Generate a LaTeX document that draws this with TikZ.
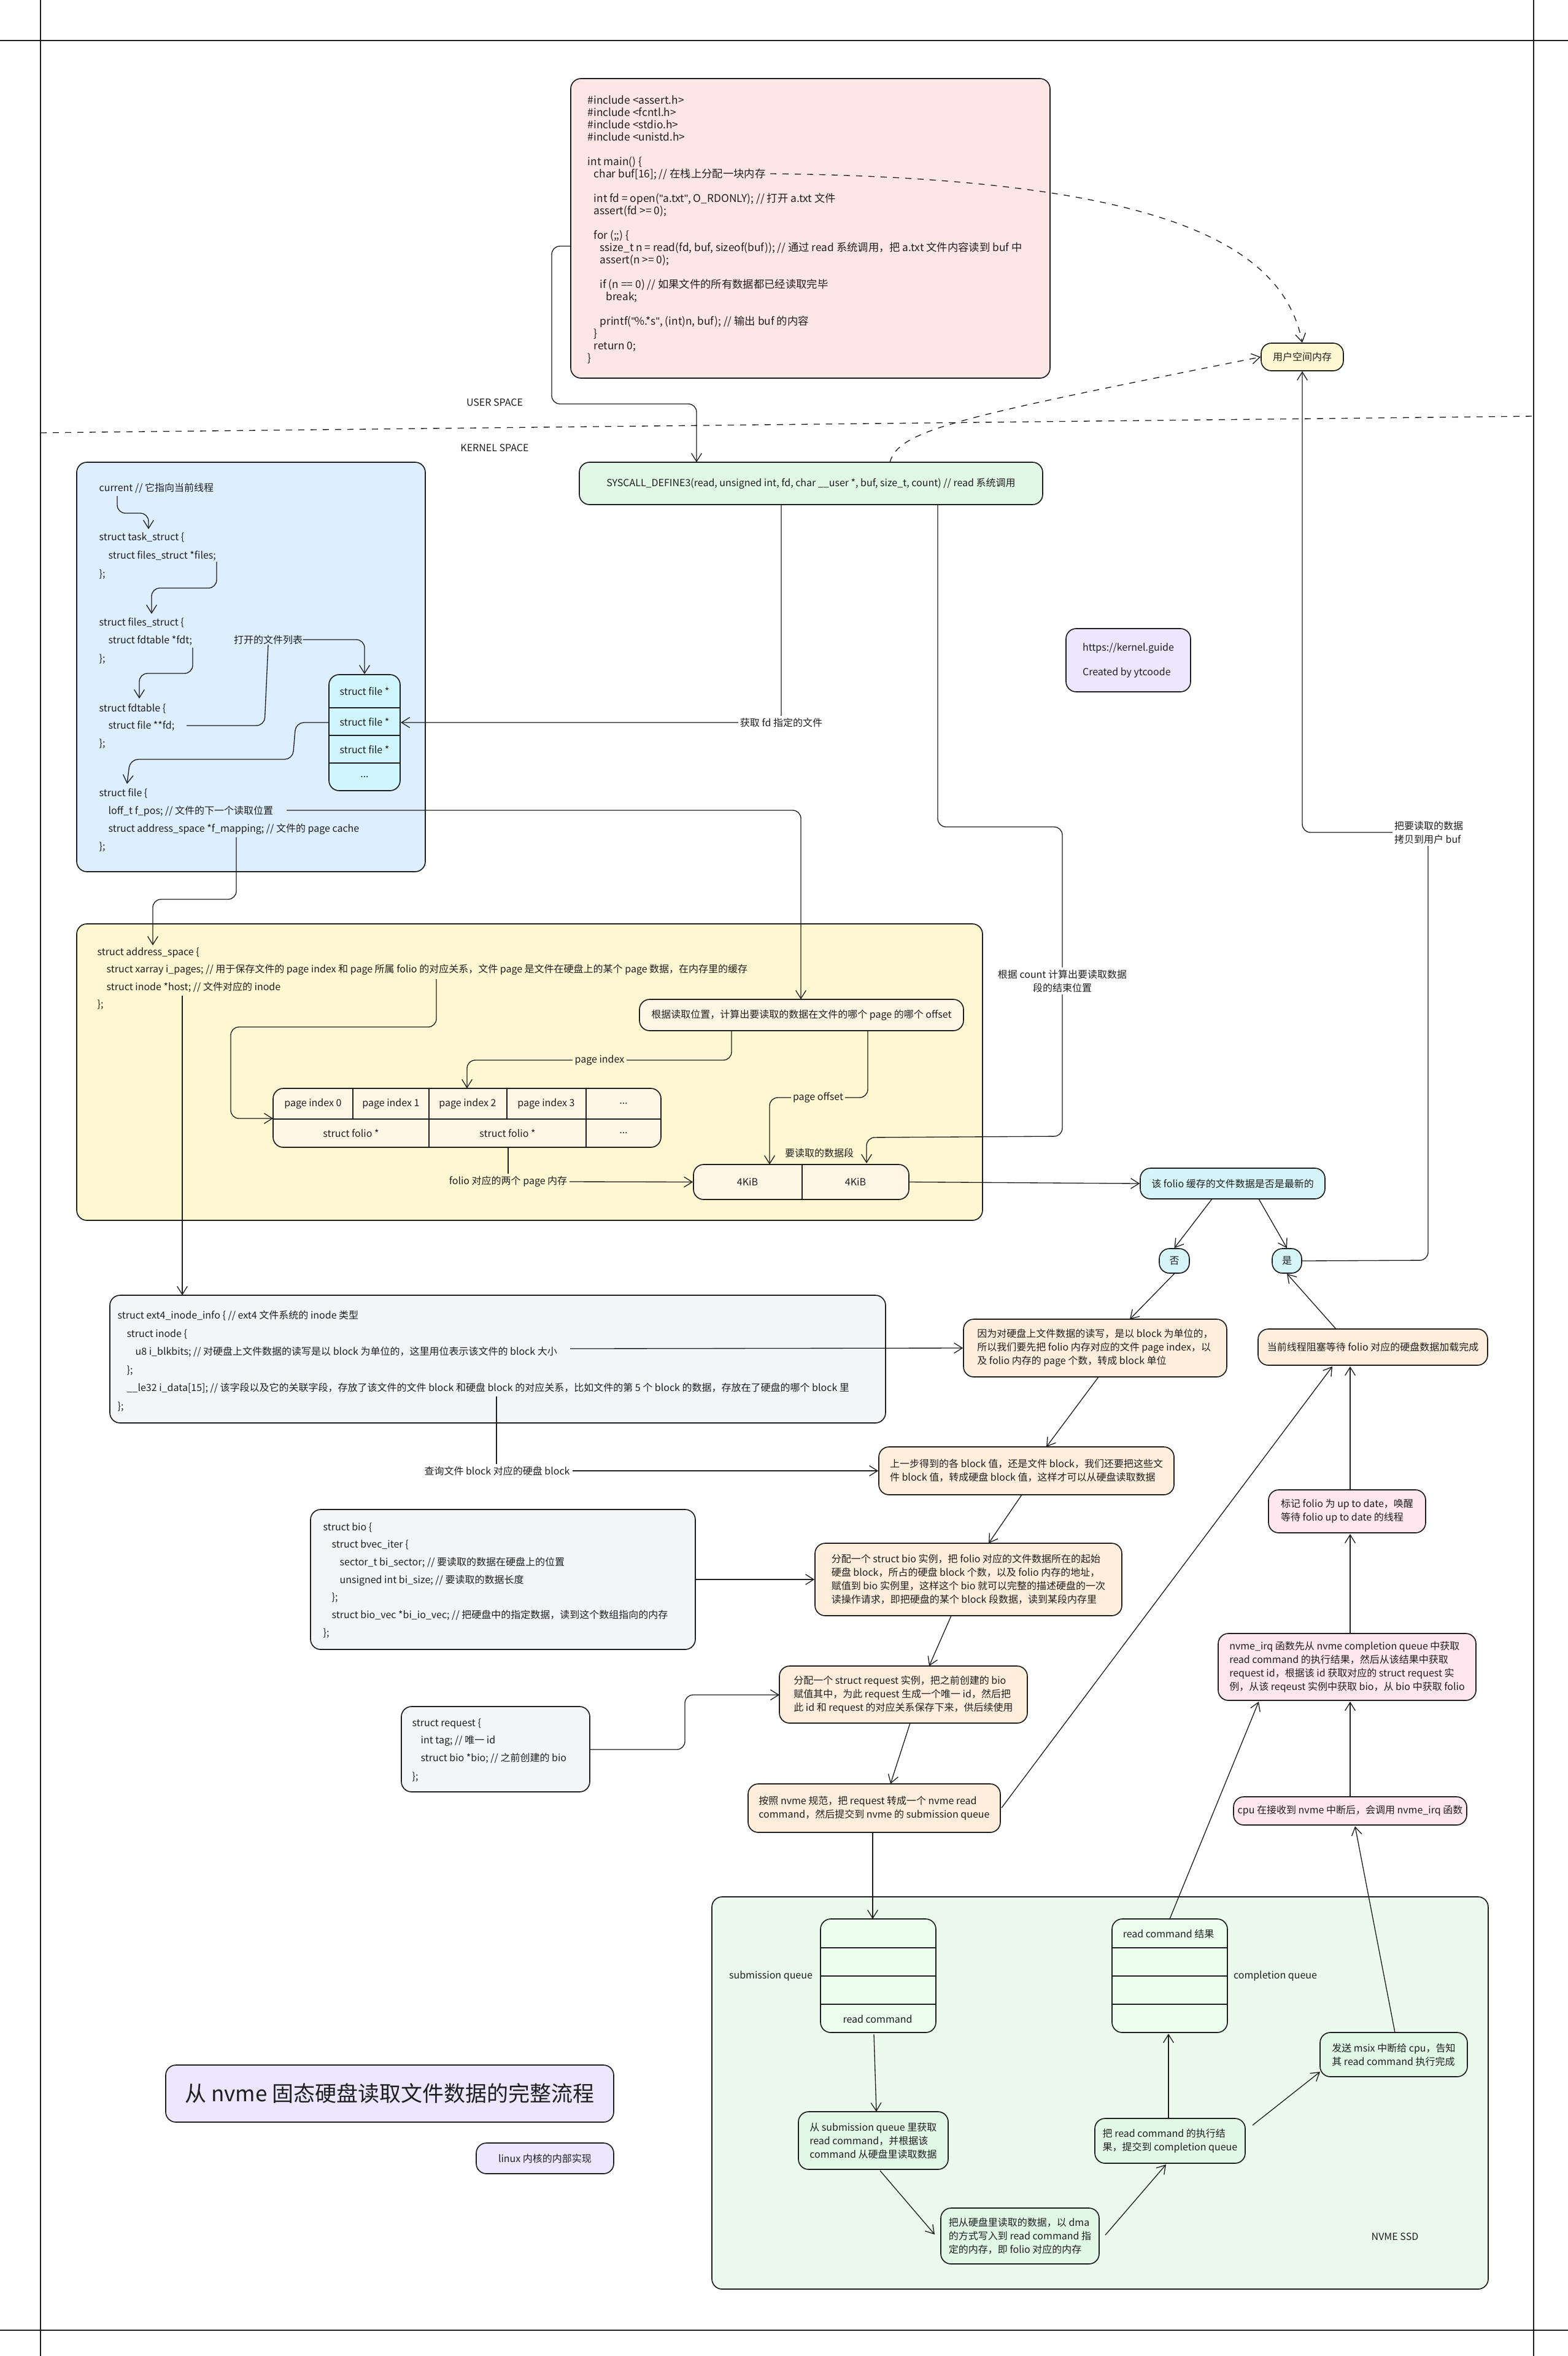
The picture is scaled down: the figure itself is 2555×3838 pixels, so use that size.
\documentclass[tikz,border=0pt]{standalone}
\usepackage{fontspec}
\setmainfont{Noto Sans CJK SC}
\newfontfamily\latinmono{Liberation Sans}
\usetikzlibrary{arrows.meta,fit}
\definecolor{ink}{HTML}{1E1E1E}
\definecolor{pinkc}{HTML}{FFE6E6}
\definecolor{bluec}{HTML}{DDEFFF}
\definecolor{yellowc}{HTML}{FFF6D2}
\definecolor{greenc}{HTML}{E2F8E6}
\definecolor{orangec}{HTML}{FFEEDC}
\definecolor{cyanc}{HTML}{D6F5F8}
\definecolor{purplec}{HTML}{ECE7FF}
\definecolor{grayc}{HTML}{F4F5F7}
\definecolor{rosec}{HTML}{FFE6EF}
\newcommand{\dq}{{\latinmono"}}
\begin{document}
\begin{tikzpicture}[x=0.3pt,y=-0.3pt,
  box/.style={draw=ink,rounded corners=5pt,line width=0.5pt,inner sep=0pt},
  t/.style={font=\fontsize{4.8}{6.6}\selectfont,inner sep=0pt,text=ink},
  tl/.style={t,anchor=base west},
  arr/.style={-{Straight Barb[length=4pt,width=5pt]},draw=ink,line width=0.4pt,rounded corners=4pt},
  ln/.style={draw=ink,line width=0.4pt,rounded corners=4pt},
  sep/.style={draw=ink,line width=0.5pt}]
\useasboundingbox (0,0) rectangle (2555,3838);
\fill[white] (0,0) rectangle (2555,3838);
% frame lines
\draw[ink,line width=0.4pt] (0,66) -- (2555,66);
\draw[ink,line width=0.4pt] (0,3796) -- (2555,3796);
\draw[ink,line width=0.4pt] (66,0) -- (66,3838);
\draw[ink,line width=0.4pt] (2499,0) -- (2499,3838);
\draw[ink,line width=0.4pt,dashed] (66,705) -- (2499,678);
\node[t] (us) at (806,656) {USER SPACE};
\node[t] (ks) at (806,730) {KERNEL SPACE};

% ---------- boxes ----------
\node[box,fill=bluec,fit={(125,753)(693,1420)}] (blue) {};
\node[box,fill=yellowc,fit={(125,1505)(1601,1988)}] (addr) {};
\node[box,fill=greenc!70,fit={(1160,3090)(2425,3729)}] (nvme) {};

\node[box,fill=pinkc,fit={(930,128)(1711,616)}] (code) {};
\node[box,fill=yellowc,fit={(2055,559)(2189,604)}] (user) {};
\node[box,fill=greenc,fit={(944,753)(1699,822)}] (sys) {};
\node[box,fill=bluec!80!cyan!60,fit={(536,1099)(652,1288)}] (fa) {};
\node[box,fill=yellowc!80!orange!30,fit={(1042,1628)(1570,1679)}] (calc) {};
\node[box,fill=yellowc!80!orange!30,fit={(445,1773)(1077,1869)}] (tab) {};
\node[box,fill=yellowc!80!orange!30,fit={(1130,1897)(1481,1954)}] (kb) {};
\node[box,fill=cyanc,fit={(1858,1903)(2159,1953)}] (fq) {};
\node[box,fill=cyanc,fit={(1889,2034)(1938,2074)}] (no) {};
\node[box,fill=cyanc,fit={(2073,2034)(2121,2074)}] (yes) {};
\node[box,fill=orangec,fit={(1570,2149)(1999,2243)}] (because) {};
\node[box,fill=orangec,fit={(2050,2165)(2424,2224)}] (block) {};
\node[box,fill=grayc,fit={(179,2110)(1443,2318)}] (ext4) {};
\node[box,fill=orangec,fit={(1432,2357)(1913,2435)}] (last) {};
\node[box,fill=grayc,fit={(506,2459)(1133,2687)}] (bios) {};
\node[box,fill=orangec,fit={(1328,2514)(1828,2632)}] (bioa) {};
\node[box,fill=orangec,fit={(1270,2714)(1674,2807)}] (req) {};
\node[box,fill=grayc,fit={(654,2780)(961,2919)}] (reqs) {};
\node[box,fill=orangec,fit={(1219,2906)(1630,2985)}] (cmd) {};
\node[box,fill=rosec,fit={(2067,2427)(2323,2497)}] (mark) {};
\node[box,fill=rosec,fit={(1985,2661)(2405,2770)}] (irq) {};
\node[box,fill=rosec,fit={(2010,2927)(2390,2973)}] (cpu) {};
\node[box,fill=greenc!80!green!25,fit={(1337,3126)(1525,3311)}] (sq) {};
\node[box,fill=greenc!80!green!25,fit={(1812,3126)(2000,3311)}] (cq) {};
\node[box,fill=greenc,fit={(1301,3440)(1545,3534)}] (fetch) {};
\node[box,fill=greenc,fit={(1533,3597)(1791,3688)}] (dma) {};
\node[box,fill=greenc,fit={(1784,3451)(2029,3524)}] (res) {};
\node[box,fill=greenc,fit={(2151,3311)(2391,3383)}] (msix) {};
\node[box,fill=purplec,fit={(270,3364)(1000,3457)}] (title) {};
\node[box,fill=purplec,fit={(776,3491)(1000,3541)}] (sub) {};
\node[box,fill=purplec,fit={(1737,1024)(1940,1127)}] (guide) {};

% separators
\draw[sep] (536,1153) -- (652,1153) (536,1198) -- (652,1198) (536,1243) -- (652,1243);
\draw[sep] (445,1823) -- (1077,1823);
\draw[sep] (575,1773) -- (575,1823) (826,1773) -- (826,1823);
\draw[sep] (699,1773) -- (699,1869) (955,1773) -- (955,1869);
\draw[sep] (1307,1897) -- (1307,1954);
\draw[sep] (1337,3173) -- (1525,3173) (1337,3219) -- (1525,3219) (1337,3265) -- (1525,3265);
\draw[sep] (1812,3173) -- (2000,3173) (1812,3219) -- (2000,3219) (1812,3265) -- (2000,3265);

% ---------- code ----------
\node[t,anchor=north west,align=left,font=\fontsize{5.2}{6}\selectfont] (codetxt) at (957,155) {%
\#include <assert.h>\\
\#include <fcntl.h>\\
\#include <stdio.h>\\
\#include <unistd.h>\\
\mbox{}\\
int main() \{\\
\hspace*{3pt}char buf[16]; // 在栈上分配一块内存\\
\mbox{}\\
\hspace*{3pt}int fd = open(\dq a.txt\dq, O\_RDONLY); // 打开 a.txt 文件\\
\hspace*{3pt}assert(fd >= 0);\\
\mbox{}\\
\hspace*{3pt}for (;;) \{\\
\hspace*{6pt}ssize\_t n = read(fd, buf, sizeof(buf)); // 通过 read 系统调用，把 a.txt 文件内容读到 buf 中\\
\hspace*{6pt}assert(n >= 0);\\
\mbox{}\\
\hspace*{6pt}if (n == 0) // 如果文件的所有数据都已经读取完毕\\
\hspace*{9pt}break;\\
\mbox{}\\
\hspace*{6pt}printf(\dq\%.*s\dq, (int)n, buf); // 输出 buf 的内容\\
\hspace*{3pt}\}\\
\hspace*{3pt}return 0;\\
\}};
\node[t] at (user.center) {用户空间内存};
\node[t] at (sys.center) {SYSCALL\_DEFINE3(read, unsigned int, fd, char \_\_user *, buf, size\_t, count) // read 系统调用};

% blue box
\node[tl] at (161,800) {current // 它指向当前线程};
\node[tl] at (161,880) {struct task\_struct \{};
\node[tl] at (176,910) {struct files\_struct *files;};
\node[tl] at (161,940) {\};};
\node[tl] at (161,1019) {struct files\_struct \{};
\node[tl] at (176,1048) {struct fdtable *fdt;};
\node[tl] at (161,1078) {\};};
\node[tl] at (161,1159) {struct fdtable \{};
\node[tl] at (176,1187) {struct file **fd;};
\node[tl] at (161,1216) {\};};
\node[tl] at (161,1297) {struct file \{};
\node[tl] at (176,1326) {loff\_t f\_pos; // 文件的下一个读取位置};
\node[tl] at (176,1355) {struct address\_space *f\_mapping; // 文件的 page cache};
\node[tl] at (161,1384) {\};};
\node[t] (olist) at (437,1042) {打开的文件列表};
\node[t] at (594,1126) {struct file *};
\node[t] at (594,1176) {struct file *};
\node[t] at (594,1221) {struct file *};
\node[t] at (594,1266) {...};

% address space
\node[tl] at (158,1556) {struct address\_space \{};
\node[tl] at (173,1584) {struct xarray i\_pages; // 用于保存文件的 page index 和 page 所属 folio 的对应关系，文件 page 是文件在硬盘上的某个 page 数据，在内存里的缓存};
\node[tl] at (173,1613) {struct inode *host; // 文件对应的 inode};
\node[tl] at (158,1641) {\};};
\node[t] at (calc.center) {根据读取位置，计算出要读取的数据在文件的哪个 page 的哪个 offset};
\node[t] at (510,1798) {page index 0};
\node[t] at (637,1798) {page index 1};
\node[t] at (762,1798) {page index 2};
\node[t] at (890,1798) {page index 3};
\node[t] at (1016,1798) {...};
\node[t] at (572,1846) {struct folio *};
\node[t] at (827,1846) {struct folio *};
\node[t] at (1016,1846) {...};
\node[t] at (1218,1925) {4KiB};
\node[t] at (1394,1925) {4KiB};
\node[t] (segl) at (1335,1878) {要读取的数据段};

\node[t] at (fq.center) {该 folio 缓存的文件数据是否是最新的};
\node[t] at (no.center) {否};
\node[t] at (yes.center) {是};
\node[t,align=left] at (because.center) {因为对硬盘上文件数据的读写，是以 block 为单位的，\\所以我们要先把 folio 内存对应的文件 page index，以\\及 folio 内存的 page 个数，转成 block 单位};
\node[t] at (block.center) {当前线程阻塞等待 folio 对应的硬盘数据加载完成};

% ext4
\node[tl] at (191,2148) {struct ext4\_inode\_info \{ // ext4 文件系统的 inode 类型};
\node[tl] at (206,2178) {struct inode \{};
\node[tl] at (220,2207) {u8 i\_blkbits; // 对硬盘上文件数据的读写是以 block 为单位的，这里用位表示该文件的 block 大小};
\node[tl] at (206,2237) {\};};
\node[tl] at (206,2266) {\_\_le32 i\_data[15]; // 该字段以及它的关联字段，存放了该文件的文件 block 和硬盘 block 的对应关系，比如文件的第 5 个 block 的数据，存放在了硬盘的哪个 block 里};
\node[tl] at (191,2296) {\};};

\node[t,align=left] at (last.center) {上一步得到的各 block 值，还是文件 block，我们还要把这些文\\件 block 值，转成硬盘 block 值，这样才可以从硬盘读取数据};
% bio
\node[tl] at (526,2493) {struct bio \{};
\node[tl] at (540,2521) {struct bvec\_iter \{};
\node[tl] at (553,2550) {sector\_t bi\_sector; // 要读取的数据在硬盘上的位置};
\node[tl] at (553,2579) {unsigned int bi\_size; // 要读取的数据长度};
\node[tl] at (540,2607) {\};};
\node[tl] at (540,2636) {struct bio\_vec *bi\_io\_vec; // 把硬盘中的指定数据，读到这个数组指向的内存};
\node[tl] at (526,2665) {\};};
\node[t,align=left] at (bioa.center) {分配一个 struct bio 实例，把 folio 对应的文件数据所在的起始\\硬盘 block，所占的硬盘 block 个数，以及 folio 内存的地址，\\赋值到 bio 实例里，这样这个 bio 就可以完整的描述硬盘的一次\\读操作请求，即把硬盘的某个 block 段数据，读到某段内存里};
\node[t,align=left] at (req.center) {分配一个 struct request 实例，把之前创建的 bio\\赋值其中，为此 request 生成一个唯一 id，然后把\\此 id 和 request 的对应关系保存下来，供后续使用};
\node[tl] at (671,2812) {struct request \{};
\node[tl] at (685,2840) {int tag; // 唯一 id};
\node[tl] at (685,2869) {struct bio *bio; // 之前创建的 bio};
\node[tl] at (671,2899) {\};};
\node[t,align=left] at (cmd.center) {按照 nvme 规范，把 request 转成一个 nvme read\\command，然后提交到 nvme 的 submission queue};
\node[t,align=left] at (mark.center) {标记 folio 为 up to date，唤醒\\等待 folio up to date 的线程};
\node[t,align=left] at (irq.center) {nvme\_irq 函数先从 nvme completion queue 中获取\\read command 的执行结果，然后从该结果中获取\\request id，根据该 id 获取对应的 struct request 实\\例，从该 reqeust 实例中获取 bio，从 bio 中获取 folio};
\node[t] at (cpu.center) {cpu 在接收到 nvme 中断后，会调用 nvme\_irq 函数};
% nvme
\node[t] at (1430,3289) {read command};
\node[t] at (1904,3150) {read command 结果};
\node[t] (sql) at (1256,3219) {submission queue};
\node[t] (cql) at (2078,3219) {completion queue};
\node[t,align=left] at (fetch.center) {从 submission queue 里获取\\read command，并根据该\\command 从硬盘里读取数据};
\node[t,align=left] at (dma.center) {把从硬盘里读取的数据，以 dma\\的方式写入到 read command 指\\定的内存，即 folio 对应的内存};
\node[t,align=left] at (res.center) {把 read command 的执行结\\果，提交到 completion queue};
\node[t,align=left] at (msix.center) {发送 msix 中断给 cpu，告知\\其 read command 执行完成};
\node[t] (ssd) at (2273,3644) {NVME SSD};
\node[t,font=\fontsize{10.5}{13}\selectfont] at (title.center) {从 nvme 固态硬盘读取文件数据的完整流程};
\node[t] at (sub.center) {linux 内核的内部实现};
\node[t,align=left,font=\fontsize{4.8}{12}\selectfont] at (guide.center) {https://kernel.guide\\Created by ytcoode};

% ---------- connectors ----------
\draw[arr] (930,401) -- (899,401) -- (899,658) -- (1135,658) -- (1135,753);
\draw[arr,dashed] (1255,283) .. controls (1900,290) and (2090,400) .. (user.north);
\draw[arr,dashed] (1450,753) .. controls (1465,700) and (1560,680) .. (user.west);
\draw[arr] (191,808) -- (191,836) -- (242,836) -- (242,862);
\draw[arr] (353,915) -- (353,958) -- (247,958) -- (247,1000);
\draw[arr] (314,1055) -- (314,1097) -- (227,1097) -- (227,1138);
\draw[arr] (olist.east) -- (594,1042) -- (fa.north);
\draw[ln] (304,1182) -- (431,1182) -- (olist.south);
\draw[arr] (536,1177) -- (482,1177) -- (477,1237) -- (212,1237) -- (207,1277);
\draw[arr] (1273,822) -- (1273,1177) -- (653,1177);
\node[t,fill=white,inner sep=1pt] at (1273,1177) {获取 fd 指定的文件};
\draw[arr] (1528,822) -- (1528,1347) -- (1731,1347) -- (1731,1851) -- (1412,1853) -- (1412,1895);
\node[t,fill=white,inner sep=1pt,align=center] at (1731,1598) {根据 count 计算出要读取数据\\段的结束位置};
\draw[arr] (467,1320) -- (1305,1320) -- (1305,1628);
\draw[arr] (385,1364) -- (385,1465) -- (249,1465) -- (249,1540);
\draw[arr] (297,1622) -- (297,2110);
\draw[arr] (1192,1679) -- (1192,1727) -- (761,1727) -- (761,1773);
\node[t,fill=yellowc,inner sep=1pt] at (977,1727) {page index};
\draw[arr] (1414,1679) -- (1414,1788) -- (1254,1788) -- (1254,1897);
\node[t,fill=yellowc,inner sep=1pt] at (1333,1788) {page offset};
\draw[arr] (711,1595) -- (711,1673) -- (376,1673) -- (376,1822) -- (445,1822);
\node[t,fill=yellowc,inner sep=1pt] (fl) at (828,1925) {folio 对应的两个 page 内存};
\draw[ln] (828,1869) -- (fl.north);
\draw[arr] (fl.east) -- (kb.west);
\draw[arr] (kb.east) -- (fq.west);
\draw[arr] (1975,1953) -- (no.north);
\draw[arr] (2051,1953) -- (yes.north);
\draw[arr] (yes.east) -- (2327,2053) -- (2327,1356) -- (2122,1356) -- (user.south);
\node[t,fill=white,inner sep=1pt,align=left] at (2328,1356) {把要读取的数据\\拷贝到用户 buf};
\draw[arr] (no.south) -- (1841,2149);
\draw[arr] (929,2197) -- (because.west);
\draw[arr] (2177,2165) -- (yes.south);
\draw[ln] (809,2275) -- (809,2396);
\node[t,fill=white,inner sep=1pt] (ql) at (810,2396) {查询文件 block 对应的硬盘 block};
\draw[arr] (ql.east) -- (last.west);
\draw[arr] (1790,2243) -- (1705,2357);
\draw[arr] (1665,2435) -- (1611,2514);
\draw[arr] (bios.east) -- (bioa.west);
\draw[arr] (1550,2632) -- (1514,2714);
\draw[arr] (961,2850) -- (1116,2850) -- (1116,2761) -- (1270,2761);
\draw[arr] (1483,2807) -- (1451,2906);
\draw[arr] (1632,2945) -- (2171,2226);
\draw[arr] (2200,2427) -- (2200,2226);
\draw[arr] (2200,2661) -- (2200,2499);
\draw[arr] (2200,2927) -- (2200,2772);
\draw[arr] (1906,3126) -- (2051,2772);
\draw[arr] (2273,3311) -- (2208,2975);
\draw[arr] (1422,2985) -- (1422,3126);
\draw[arr] (1424,3314) -- (1428,3440);
\draw[arr] (1434,3536) -- (1523,3640);
\draw[arr] (1801,3641) -- (1900,3526);
\draw[arr] (1904,3451) -- (1904,3313);
\draw[arr] (2041,3462) -- (2151,3375);
\end{tikzpicture}
\end{document}
